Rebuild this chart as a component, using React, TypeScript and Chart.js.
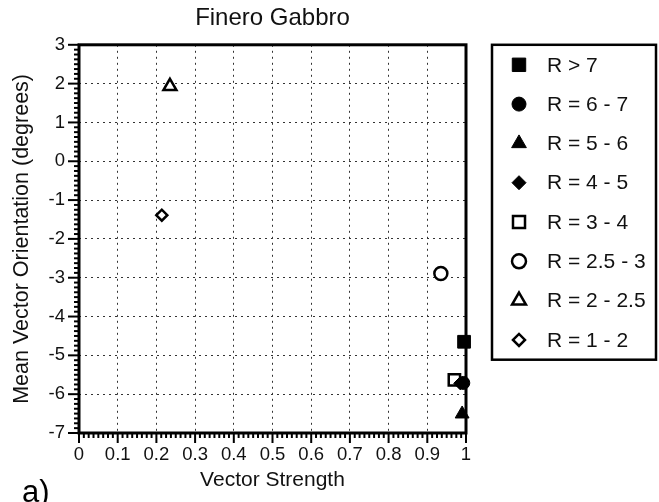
import React, { useEffect, useRef } from 'react';
import { Chart, registerables } from 'chart.js';
import { drawPoint } from 'chart.js/helpers';

Chart.register(...registerables);

// ---- data ----
const seriesLabels = ['R > 7', 'R = 6 - 7', 'R = 5 - 6', 'R = 4 - 5', 'R = 3 - 4', 'R = 2.5 - 3', 'R = 2 - 2.5', 'R = 1 - 2'];
const vectorStrength = [0.995, 0.993, 0.99, 0.985, 0.97, 0.935, 0.235, 0.214];
const meanOrientation = [-4.65, -5.71, -6.51, -5.72, -5.63, -2.89, 1.93, -1.39];
const xTickLabels = ['0', '0.1', '0.2', '0.3', '0.4', '0.5', '0.6', '0.7', '0.8', '0.9', '1'];
const yTickLabels = ['-7', '-6', '-5', '-4', '-3', '-2', '-1', '0', '1', '2', '3'];

// ---- styles ----
const FONT = "'Liberation Sans', Arial, Helvetica, sans-serif";
const markerStyles = [
  { style: 'rect', radius: 9, filled: true },
  { style: 'circle', radius: 6.5, filled: true },
  { style: 'triangle', radius: 8, filled: true },
  { style: 'rectRot', radius: 6.5, filled: true },
  { style: 'rect', radius: 8, filled: false },
  { style: 'circle', radius: 6.5, filled: false },
  { style: 'triangle', radius: 7.5, filled: false },
  { style: 'rectRot', radius: 5.5, filled: false },
];

const framePlugin = {
  id: 'framePlugin',
  beforeDatasetsDraw(chart: any) {
    const { ctx, chartArea: ca, scales } = chart;
    const xs = scales.x;
    const ys = scales.y;
    ctx.save();
    ctx.strokeStyle = '#000';
    ctx.lineWidth = 2;
    for (let i = 0; i <= 80; i++) {
      const px = xs.getPixelForValue(i * 0.0125);
      const major = i % 8 === 0;
      ctx.beginPath();
      ctx.moveTo(px, ca.bottom);
      ctx.lineTo(px, ca.bottom + (major ? 10 : 5));
      ctx.stroke();
    }
    for (let i = 0; i <= 80; i++) {
      const py = ys.getPixelForValue(-7 + i * 0.125);
      const major = i % 8 === 0;
      ctx.beginPath();
      ctx.moveTo(ca.left, py);
      ctx.lineTo(ca.left - (major ? 11 : 5), py);
      ctx.stroke();
    }
    ctx.lineWidth = 3;
    ctx.strokeRect(ca.left, ca.top, ca.right - ca.left, ca.bottom - ca.top);
    ctx.restore();
  },
  afterDraw(chart: any) {
    const { ctx, chartArea: ca } = chart;
    ctx.save();
    const bx = ca.right + 26;
    const by = ca.top;
    const bw = chart.width - 3 - bx;
    const rowH = 39.3;
    const bh = rowH * seriesLabels.length + 0.5;
    ctx.lineWidth = 2.5;
    ctx.strokeStyle = '#000';
    ctx.strokeRect(bx, by, bw, bh);
    seriesLabels.forEach((lab, i) => {
      const m = markerStyles[i];
      const cy = by + 20 + i * rowH;
      const cx = bx + 27;
      ctx.fillStyle = m.filled ? '#000' : '#fff';
      ctx.strokeStyle = '#000';
      ctx.lineWidth = m.filled ? 1 : 2.5;
      drawPoint(ctx, { pointStyle: m.style, radius: m.radius + 0.5, borderWidth: ctx.lineWidth, rotation: 0 } as any, cx, cy);
      ctx.fillStyle = '#111';
      ctx.font = `21px ${FONT}`;
      ctx.textAlign = 'left';
      ctx.textBaseline = 'middle';
      ctx.fillText(lab, bx + 55, cy + 1);
    });
    ctx.fillStyle = '#000';
    ctx.font = `31px ${FONT}`;
    ctx.textAlign = 'left';
    ctx.textBaseline = 'alphabetic';
    ctx.fillText('a)', 22, 502);
    ctx.restore();
  },
};

export default function App() {
  const ref = useRef<HTMLCanvasElement | null>(null);
  useEffect(() => {
    document.body.style.margin = '0';
    const canvas = ref.current;
    if (!canvas) return;
    const datasets = seriesLabels.map((lab, i) => {
      const m = markerStyles[i];
      return {
        label: lab,
        data: [{ x: vectorStrength[i], y: meanOrientation[i] }],
        pointStyle: m.style,
        pointRadius: m.radius,
        pointHoverRadius: m.radius,
        pointBackgroundColor: m.filled ? '#000' : '#fff',
        pointBorderColor: '#000',
        pointBorderWidth: m.filled ? 1 : 2.5,
        showLine: false,
        clip: false as any,
      };
    });
    const chart = new Chart(canvas, {
      type: 'scatter',
      data: { datasets: datasets as any },
      plugins: [framePlugin as any],
      options: {
        responsive: false,
        animation: false,
        layout: { padding: { left: 0, right: 193, top: 0, bottom: 0 } },
        plugins: {
          legend: { display: false },
          tooltip: { enabled: false },
          title: {
            display: true,
            text: 'Finero Gabbro',
            fullSize: false,
            color: '#111',
            font: { family: FONT, size: 24, weight: 'normal' },
            padding: { top: 4, bottom: 12 },
          },
        },
        scales: {
          x: {
            type: 'linear',
            min: 0,
            max: 1,
            afterFit: (s: any) => { s.height = 69; },
            ticks: {
              stepSize: 0.1,
              padding: 11,
              color: '#111',
              font: { family: FONT, size: 18.5 },
              maxRotation: 0,
              autoSkip: false,
              callback: (_v: any, idx: number) => xTickLabels[idx],
            },
            grid: { color: '#333', lineWidth: 1, drawTicks: false },
            border: { display: false, dash: [2, 4] },
            title: {
              display: true,
              text: 'Vector Strength',
              color: '#111',
              font: { family: FONT, size: 21 },
              padding: { top: 0, bottom: 9 },
            },
          },
          y: {
            type: 'linear',
            min: -7,
            max: 3,
            afterFit: (s: any) => { s.width = 79; },
            ticks: {
              stepSize: 1,
              padding: 14,
              color: '#111',
              font: { family: FONT, size: 18.5 },
              autoSkip: false,
              callback: (_v: any, idx: number) => yTickLabels[idx],
            },
            grid: { color: '#333', lineWidth: 1, drawTicks: false },
            border: { display: false, dash: [2, 4] },
            title: {
              display: true,
              text: 'Mean Vector Orientation (degrees)',
              color: '#111',
              font: { family: FONT, size: 21.5 },
              padding: { top: 9, bottom: 0 },
            },
          },
        },
      },
    });
    return () => chart.destroy();
  }, []);
  return (
    <div style={{ position: 'fixed', left: 0, top: 0, width: 659, height: 502 }}>
      <canvas ref={ref} width={659} height={502} style={{ display: 'block', width: 659, height: 502 }} />
    </div>
  );
}
